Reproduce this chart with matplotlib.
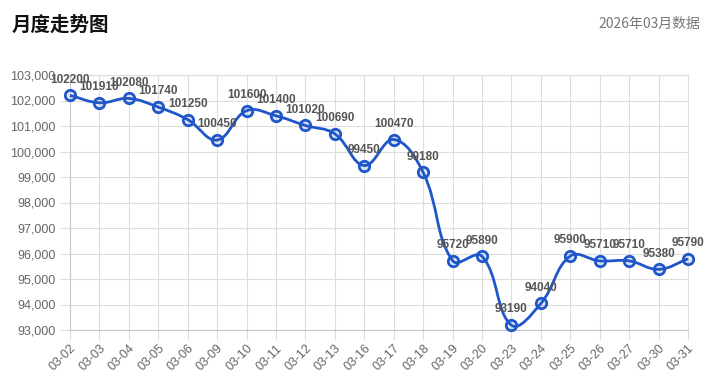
import numpy as np
import matplotlib
matplotlib.use("Agg")
import matplotlib.pyplot as plt
from matplotlib.path import Path
from matplotlib.patches import PathPatch
from matplotlib.ticker import FuncFormatter

plt.rcParams['font.family'] = ['Liberation Sans', 'Noto Sans CJK SC', 'DejaVu Sans']

dates = ["03-02", "03-03", "03-04", "03-05", "03-06", "03-09", "03-10", "03-11",
         "03-12", "03-13", "03-16", "03-17", "03-18", "03-19", "03-20", "03-23",
         "03-24", "03-25", "03-26", "03-27", "03-30", "03-31"]
values = [102200, 101910, 102080, 101740, 101250, 100450, 101600, 101400,
          101020, 100690, 99450, 100470, 99180, 95720, 95890, 93190,
          94040, 95900, 95710, 95710, 95380, 95790]
title = "月度走势图"
subtitle = "2026年03月数据"

line_color = "#1f56c9"
grid_color = "#dddddd"
text_color = "#666666"


def spline_path(xs, ys, tension=0.4):
    # chart.js style cubic bezier through the points
    n = len(xs)
    verts = [(xs[0], ys[0])]
    codes = [Path.MOVETO]
    cps = []
    for i in range(n):
        xp, yp = (xs[i - 1], ys[i - 1]) if i > 0 else (xs[i], ys[i])
        xn, yn = (xs[i + 1], ys[i + 1]) if i < n - 1 else (xs[i], ys[i])
        d01 = np.hypot(xs[i] - xp, ys[i] - yp)
        d12 = np.hypot(xn - xs[i], yn - ys[i])
        s01 = d01 / (d01 + d12) if d01 + d12 else 0
        s12 = d12 / (d01 + d12) if d01 + d12 else 0
        fa, fb = tension * s01, tension * s12
        prev_cp = (xs[i] - fa * (xn - xp), ys[i] - fa * (yn - yp))
        next_cp = (xs[i] + fb * (xn - xp), ys[i] + fb * (yn - yp))
        cps.append((prev_cp, next_cp))
    for i in range(1, n):
        verts += [cps[i - 1][1], cps[i][0], (xs[i], ys[i])]
        codes += [Path.CURVE4] * 3
    return Path(verts, codes)


fig = plt.figure(figsize=(7.16, 3.84), dpi=100)
ax = fig.add_axes([70 / 716, 1 - 330 / 384, 618 / 716, 255 / 384])

x = np.arange(len(dates))
ax.set_xlim(0, len(dates) - 1)
ax.set_ylim(93000, 103000)

# build the spline in display space so tension behaves like in the browser
fig.canvas.draw()
pts = ax.transData.transform(np.column_stack([x, values]))
path = spline_path(pts[:, 0], pts[:, 1])
path = ax.transData.inverted().transform_path(path)
ax.add_patch(PathPatch(path, fill=False, edgecolor=line_color, lw=2, zorder=3, clip_on=False))

ax.plot(x, values, linestyle="none", marker="o", markersize=7.5,
        markerfacecolor=(0.12, 0.34, 0.79, 0.12), markeredgecolor=line_color,
        markeredgewidth=2, zorder=4, clip_on=False)

for xi, v in zip(x, values):
    ax.annotate(str(v), (xi, v), xytext=(0, 7), textcoords="offset points",
                ha="center", va="bottom", fontsize=8.5, fontweight="bold",
                color="#555555", zorder=5, annotation_clip=False)

ax.set_xticks(x)
ax.set_xticklabels(dates, rotation=45, ha="right", rotation_mode="anchor")
ax.set_yticks(np.arange(93000, 103001, 1000))
ax.yaxis.set_major_formatter(FuncFormatter(lambda v, p: f"{int(v):,}"))
ax.tick_params(axis="both", colors=grid_color, labelcolor=text_color, labelsize=9,
               length=7, width=0.8)
ax.tick_params(axis="x", pad=2)
ax.grid(True, color=grid_color, lw=0.8)
ax.set_axisbelow(True)
for s in ax.spines.values():
    s.set_color(grid_color)
    s.set_linewidth(0.8)
ax.spines["left"].set_color("#c8c8c8")
ax.spines["bottom"].set_color("#c8c8c8")

fig.text(12 / 716, 1 - 25 / 384, title, fontsize=14, fontweight="bold", color="#111111",
         va="center", ha="left", family=["Noto Sans CJK SC", "DejaVu Sans"])
fig.text(700 / 716, 1 - 24 / 384, subtitle, fontsize=10, color="#777777",
         va="center", ha="right", family=["Noto Sans CJK SC", "DejaVu Sans"])

fig.savefig("out.png", dpi=100)
